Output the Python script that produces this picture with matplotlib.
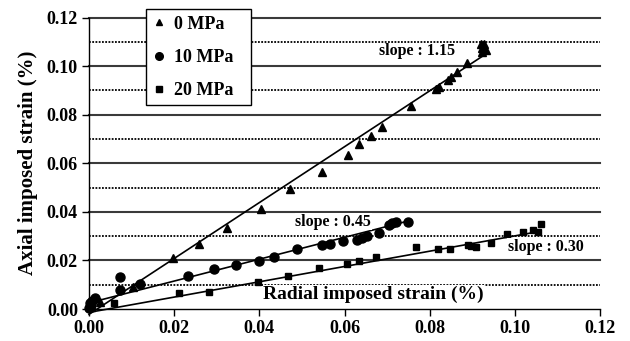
import matplotlib
matplotlib.use("Agg")
import matplotlib.pyplot as plt
from matplotlib.lines import Line2D
import numpy as np

plt.rcParams['font.family'] = ['Liberation Serif', 'DejaVu Serif']
plt.rcParams['font.weight'] = 'bold'

# ---- data ----
series_labels = ["0 MPa", "10 MPa", "20 MPa"]

x_0mpa = [0.0005, 0.0026, 0.0104, 0.0198, 0.0259, 0.0323, 0.0403, 0.0471, 0.0546,
          0.0608, 0.0635, 0.0663, 0.0688, 0.0755, 0.0816, 0.0822, 0.0842, 0.0849,
          0.0865, 0.0887, 0.0922, 0.0924, 0.0928, 0.0932, 0.0920]
y_0mpa = [0.0010, 0.0030, 0.0090, 0.0210, 0.0266, 0.0333, 0.0411, 0.0494, 0.0563,
          0.0635, 0.0678, 0.0713, 0.0749, 0.0837, 0.0906, 0.0914, 0.0944, 0.0954,
          0.0975, 0.1013, 0.1057, 0.1075, 0.1089, 0.1068, 0.1089]

x_10mpa = [0.0000, 0.0002, 0.0006, 0.0014, 0.0073, 0.0073, 0.0120, 0.0232, 0.0294,
           0.0346, 0.0400, 0.0434, 0.0489, 0.0548, 0.0565, 0.0597, 0.0630, 0.0642,
           0.0653, 0.0681, 0.0705, 0.0712, 0.0720, 0.0749]
y_10mpa = [0.0003, 0.0024, 0.0034, 0.0044, 0.0133, 0.0078, 0.0101, 0.0137, 0.0165,
           0.0181, 0.0199, 0.0216, 0.0245, 0.0264, 0.0267, 0.0280, 0.0285, 0.0291,
           0.0301, 0.0312, 0.0345, 0.0352, 0.0360, 0.0360]

x_20mpa = [0.0000, 0.0006, 0.0059, 0.0211, 0.0281, 0.0398, 0.0468, 0.0540, 0.0606,
           0.0633, 0.0675, 0.0767, 0.0819, 0.0847, 0.0889, 0.0898, 0.0908, 0.0944,
           0.0981, 0.1020, 0.1042, 0.1055, 0.1062]
y_20mpa = [0.0005, 0.0015, 0.0024, 0.0064, 0.0071, 0.0113, 0.0137, 0.0168, 0.0187,
           0.0196, 0.0213, 0.0254, 0.0249, 0.0249, 0.0265, 0.0260, 0.0257, 0.0273,
           0.0308, 0.0316, 0.0326, 0.0315, 0.0349]

# fitted trend lines as drawn: slope, intercept, x-range
fit_slopes = [1.15, 0.45, 0.315]
fit_intercepts = [-0.0022, 0.0025, -0.0014]
fit_xmin = [0.0, 0.0, 0.0]
fit_xmax = [0.0932, 0.0749, 0.1055]

slope_texts = ["slope : 1.15", "slope : 0.45", "slope : 0.30"]
slope_text_x = [0.0771, 0.0574, 0.1073]
slope_text_y = [0.1061, 0.0360, 0.0257]

xticks = [0.00, 0.02, 0.04, 0.06, 0.08, 0.10, 0.12]
yticks = [0.00, 0.02, 0.04, 0.06, 0.08, 0.10, 0.12]
yminor = [0.01, 0.03, 0.05, 0.07, 0.09, 0.11]

# ---- figure ----
fig = plt.figure(figsize=(6.3, 3.41), dpi=100)
ax = fig.add_axes([89/630, 1-309/341, (600-89)/630, (309-17.5)/341])

ax.set_xlim(0, 0.12)
ax.set_ylim(0, 0.12)

# grid
for yv in yticks[1:]:
    ax.axhline(yv, color='#3a3a3a', lw=1.5, zorder=1, clip_on=False)
for yv in yminor:
    ax.axhline(yv, color='black', lw=1.3, ls=(0, (1.0, 0.8)), zorder=1)

markers = ['^', 'o', 's']
sizes = [5.8, 6.5, 4.6]
xs = [x_0mpa, x_10mpa, x_20mpa]
ys = [y_0mpa, y_10mpa, y_20mpa]
for i in range(3):
    ax.plot(xs[i], ys[i], ls='none', marker=markers[i], ms=sizes[i],
            color='black', zorder=3, clip_on=False)
    xl = np.array([fit_xmin[i], fit_xmax[i]])
    ax.plot(xl, fit_slopes[i]*xl + fit_intercepts[i], color='black',
            lw=1.2, zorder=4, clip_on=False)
    ax.text(slope_text_x[i], slope_text_y[i], slope_texts[i], ha='center',
            va='center', fontsize=11.5, fontweight='bold', zorder=5,
            bbox=dict(facecolor='white', edgecolor='none', pad=0.5))

ax.text(0.0668, 0.0060, "Radial imposed strain (%)", ha='center', va='center',
        fontsize=14, fontweight='bold', zorder=5,
        bbox=dict(facecolor='white', edgecolor='none', pad=0.3))

ax.set_ylabel("Axial imposed strain (%)", fontsize=15, fontweight='bold', labelpad=6)

ax.set_xticks(xticks)
ax.set_yticks(yticks)
ax.set_xticklabels([f"{v:.2f}" for v in xticks])
ax.set_yticklabels([f"{v:.2f}" for v in yticks])
ax.tick_params(axis='both', direction='out', length=5, width=1, labelsize=13, pad=3)
for lab in ax.get_xticklabels() + ax.get_yticklabels():
    lab.set_fontweight('bold')

for s in ['top', 'right']:
    ax.spines[s].set_visible(False)
for s in ['left', 'bottom']:
    ax.spines[s].set_linewidth(1.0)
    ax.spines[s].set_color('black')

handles = [Line2D([], [], ls='none', marker='^', ms=4.5, color='black'),
           Line2D([], [], ls='none', marker='o', ms=5.5, color='black'),
           Line2D([], [], ls='none', marker='s', ms=4, color='black')]
leg = ax.legend(handles, series_labels, loc='upper left',
                bbox_to_anchor=(0.111, 0.696, 0.207, 0.332), mode='expand',
                frameon=True, fancybox=False,
                framealpha=1, edgecolor='black',
                prop={'weight': 'bold', 'size': 13},
                handlelength=0.8, handletextpad=0.4, labelspacing=0.9,
                borderpad=0.35, borderaxespad=0)
leg.get_frame().set_linewidth(1.0)
leg.set_zorder(10)

fig.savefig("out.png", dpi=100)
